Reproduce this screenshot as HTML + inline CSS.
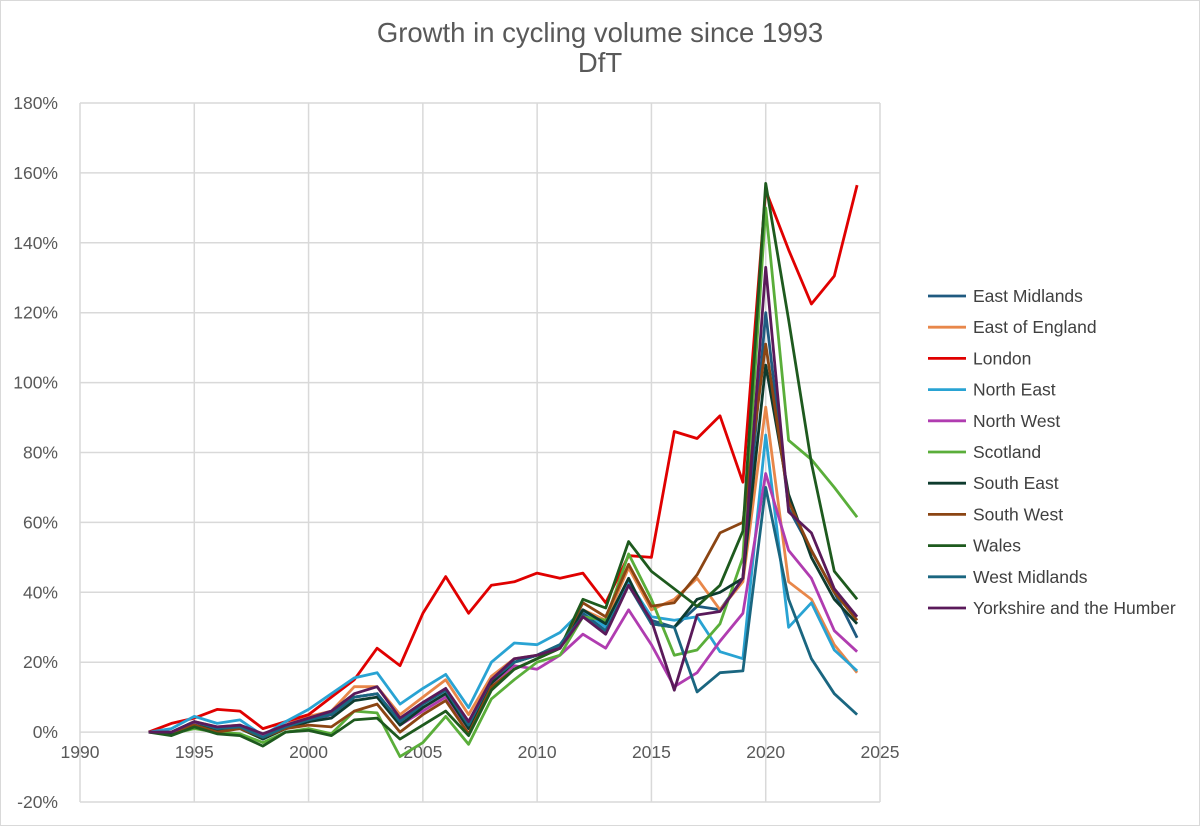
<!DOCTYPE html>
<html><head><meta charset="utf-8"><style>
body{margin:0;background:#fff;font-family:"Liberation Sans",sans-serif}
#c{position:absolute;left:0;top:0;width:1200px;height:826px}
</style></head><body>
<svg id="c" width="1200" height="826" font-family="Liberation Sans, sans-serif">
<rect x="0.5" y="0.5" width="1199" height="825" fill="#fff" stroke="#d9d9d9"/>
<text x="600" y="42" text-anchor="middle" font-size="27.5" fill="#595959">Growth in cycling volume since 1993</text>
<text x="600" y="72" text-anchor="middle" font-size="27.5" fill="#595959">DfT</text>
<g id="grid"></g><g id="series"></g><g id="legend"></g>
</svg>
<script>
const years=[];for(let y=1993;y<=2024;y++)years.push(y);
const xTicks=[1990,1995,2000,2005,2010,2015,2020,2025];
const yTicks=[-20,0,20,40,60,80,100,120,140,160,180];
const seriesNames=["East Midlands","East of England","London","North East","North West","Scotland","South East","South West","Wales","West Midlands","Yorkshire and the Humber"];
const eastMidlands=[0,0,3,1,1.5,-1.5,1.5,3.5,5.5,10,11,3,8,12,2,15,20,22,25,34,29,43,32,30,36,35,44,120,64,52,40,27];
const eastOfEngland=[0,0,3,1.5,2,-1,2,4.5,6,13,13,5,10,15,5,16,21,22,24,35,32,47,35,38,44,35,43,93,43,38,25,17];
const london=[0,2.5,4,6.5,6,1,3,5,10,15,24,19,34,44.5,34,42,43,45.5,44,45.5,37,50.5,50,86,84,90.5,71.5,155,138,122.5,130.5,156.5];
const northEast=[0,1,4.5,2.5,3.5,-1,3,6.5,11,15.5,17,8,12.5,16.5,7,20,25.5,25,28.5,35,30,43,33,32,33,23,21,85,30,37,23.5,17.5];
const northWest=[0,0,2.5,1,1.5,-1,1,3,5,10,11,2,6,10,1,14,19,18,22,28,24,35,25,13,17,26,34,74,52,44,29,23];
const scotland=[0,-0.5,1,0,-0.5,-3,0,1,-0.5,6,5.5,-7,-3,4.5,-3.5,9.5,15,20,22,33,32,51,38,22,23.5,31,50,150,83.5,78,70,61.5];
const southEast=[0,-0.5,2,0.5,1,-2,1,3,4,9,10,2,7,11,1,14,20,22,24,35,31,44,31,30,38,40,44,105,68,50,38,31];
const southWest=[0,0,2,0,1,-1.5,1,2,1.5,6,8,0,5,9,-0.5,13,18,21,24,37,33,48,36,37,45,57,60,111,66,52,40,32];
const wales=[0,-1,1.5,-0.5,-1,-4,0,0.5,-1,3.5,4,-2,2,6,-1,12,18,21,24,38,35.5,54.5,46,41,36,42,57.5,157,118,77,46,38];
const westMidlands=[0,0,3,1,1.5,-1.5,1.5,3.5,5,10,11,3,8,12,2,15,20,22,25,33,29,42,31,30,11.5,17,17.5,70,38,21,11,5];
const yorkshire=[0,0,3,1.5,2,-0.5,2,4,6,11,13,4,8.5,12.5,3,15,21,22,24,33,28,42,32,12,33.5,34.5,44,133,63,57,41,33];
const allSeries=[eastMidlands,eastOfEngland,london,northEast,northWest,scotland,southEast,southWest,wales,westMidlands,yorkshire];
const colors=["#1f5a80","#e8874a","#e00000","#29a3d3","#b03cb0","#5aae3a","#0e3b2e","#8b4513","#1e5a1e","#1a6680","#5a1a5a"];
const NS="http://www.w3.org/2000/svg";
const X0=80,X1=880,Y0=802,Y1=103;
const xs=v=>X0+(v-1990)/(2025-1990)*(X1-X0);
const ys=v=>Y0-(v+20)/200*(Y0-Y1);
function mk(t,a,p){const e=document.createElementNS(NS,t);for(const k in a)e.setAttribute(k,a[k]);p.appendChild(e);return e;}
const grid=document.getElementById('grid');
yTicks.forEach(t=>{
 const l=mk('line',{x1:X0,x2:X1,y1:ys(t),y2:ys(t),stroke:'#d9d9d9','stroke-width':1.5},grid);
 
 
 const tx=mk('text',{x:58,y:ys(t)+6,'text-anchor':'end','font-size':17.5,fill:'#595959'},grid);
 tx.textContent=t+'%';
 
 
});
xTicks.forEach(t=>{
 const l=mk('line',{x1:xs(t),x2:xs(t),y1:Y1,y2:Y0,stroke:'#d9d9d9','stroke-width':1.5},grid);
 
 
 const tx=mk('text',{x:xs(t),y:ys(0)+26,'text-anchor':'middle','font-size':17.5,fill:'#595959'},grid);
 tx.textContent=t;
 
 
});
const sg=document.getElementById('series');
allSeries.forEach((s,i)=>{
 const d=s.map((v,j)=>(j?'L':'M')+xs(years[j]).toFixed(1)+' '+ys(v).toFixed(1)).join(' ');
 const p=mk('path',{d:d,fill:'none',stroke:colors[i],'stroke-width':2.8,'stroke-linejoin':'round'},sg);
 
 
});
const lg=document.getElementById('legend');
seriesNames.forEach((n,i)=>{
 const y=296+i*31.2;
 const g=mk('g',{},lg);
 
 
 mk('line',{x1:928,x2:966,y1:y,y2:y,stroke:colors[i],'stroke-width':2.8},g);
 const t=mk('text',{x:973,y:y+6,'font-size':17.5,fill:'#404040'},g);
 t.textContent=n;
});
</script>
</body></html>
